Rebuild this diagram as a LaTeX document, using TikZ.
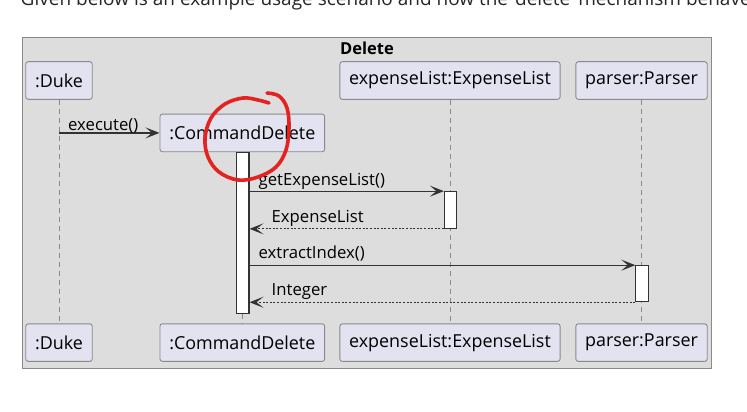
\documentclass[tikz,border=0pt]{standalone}
\usepackage{fontspec}
\setmainfont{Open Sans}
\usetikzlibrary{arrows.meta}
\definecolor{partfill}{HTML}{E2E2F0}
\definecolor{framefill}{HTML}{DDDDDD}
\definecolor{lineclr}{HTML}{8A8A8A}
\definecolor{msgclr}{HTML}{333333}
\definecolor{penred}{HTML}{E42320}
\definecolor{introclr}{HTML}{262626}

\begin{document}
\begin{tikzpicture}[x=1pt, y=-1pt,
    part/.style={draw=lineclr, fill=partfill, rounded corners=2.5pt, line width=0.9pt,
      minimum height=37.6pt, inner xsep=9.3pt, font=\fontsize{17.9}{20}\selectfont, text=black},
    actbar/.style={draw=msgclr, fill=white, line width=1.1pt, minimum width=12.3pt, inner sep=0pt},
    life/.style={draw=lineclr, dash pattern=on 5pt off 4pt, line width=0.9pt},
    call/.style={draw=msgclr, line width=1.3pt, -{Stealth[length=14pt,width=11pt,inset=6.5pt]}},
    ret/.style={draw=msgclr, line width=1.1pt, dash pattern=on 2pt off 1.6pt, -{Stealth[length=14pt,width=11pt,inset=7pt]}},
    msg/.style={anchor=base west, inner sep=0pt, font=\fontsize{16.7}{20}\selectfont, text=black}]

        \fill [white] (0,0) rectangle (747,412);
        \useasboundingbox (0,0) rectangle (747,412);

        \node [anchor=base west, inner sep=0pt, text=introclr, font=\fontsize{19}{22}\selectfont] (intro) at (20.5,5.5)
          {Given below is an example usage scenario and how the `delete' mechanism behave};

        % frame
        \draw [draw=lineclr, fill=framefill, line width=1pt] (22,37.5) rectangle (711.7,368.3);
        \node [font=\bfseries\fontsize{16.5}{20}\selectfont] (title) at (367,48) {Delete};

        % participants
        \node [part] (duke) at (59,80.5) {:Duke};
        \node [part] (cmd) at (242.3,132.9) {:CommandDelete};
        \node [part] (elist) at (450,80.5) {expenseList:ExpenseList};
        \node [part] (parser) at (641.5,80.5) {parser:Parser};

        \node [part] (dukeB) at (59,342.6) {:Duke};
        \node [part] (cmdB) at (242.3,342.6) {:CommandDelete};
        \node [part] (elistB) at (450,342.6) {expenseList:ExpenseList};
        \node [part] (parserB) at (641.5,342.6) {parser:Parser};

        \draw [life] (duke.south) -- (dukeB.north);
        \draw [life] (cmd.south) -- (cmdB.north);
        \draw [life] (elist.south) -- (elistB.north);
        \draw [life] (parser.south) -- (parserB.north);

        \node [actbar, minimum height=161pt] (actCmd) at (242.8,232.8) {};
        \node [actbar, minimum height=36.6pt] (actList) at (450.6,210) {};
        \node [actbar, minimum height=36pt] (actParser) at (642,283.7) {};

        % messages
        \draw [call] (duke |- cmd) -- (cmd.west);
        \node [msg] (lblExec) at (68,130.5) {execute()};

        \draw [call] (actCmd.east |- actList.north) -- (actList.north west);
        \node [msg] (lblGet) at (258.5,185) {getExpenseList()};

        \draw [ret] (actList.south west) -- (actCmd.east |- actList.south);
        \node [msg] (lblList) at (271.5,222) {ExpenseList};

        \draw [call] (actCmd.east |- actParser.north) -- (actParser.north west);
        \node [msg] (lblIdx) at (258.5,258.5) {extractIndex()};

        \draw [ret] (actParser.south west) -- (actCmd.east |- actParser.south);
        \node [msg] (lblInt) at (271.5,295.5) {Integer};

        % pen mark
        \draw [penred, line width=3.6pt, line cap=round, line join=round] plot [smooth, tension=0.6] coordinates {
          (267,93) (279,96) (287,108) (289,128) (286,150) (276,167) (258,177) (238,180)
          (219,172) (208,157) (205,138) (211,118) (225,104) (243,98) (258,100) (269,103)};

\end{tikzpicture}
\end{document}
